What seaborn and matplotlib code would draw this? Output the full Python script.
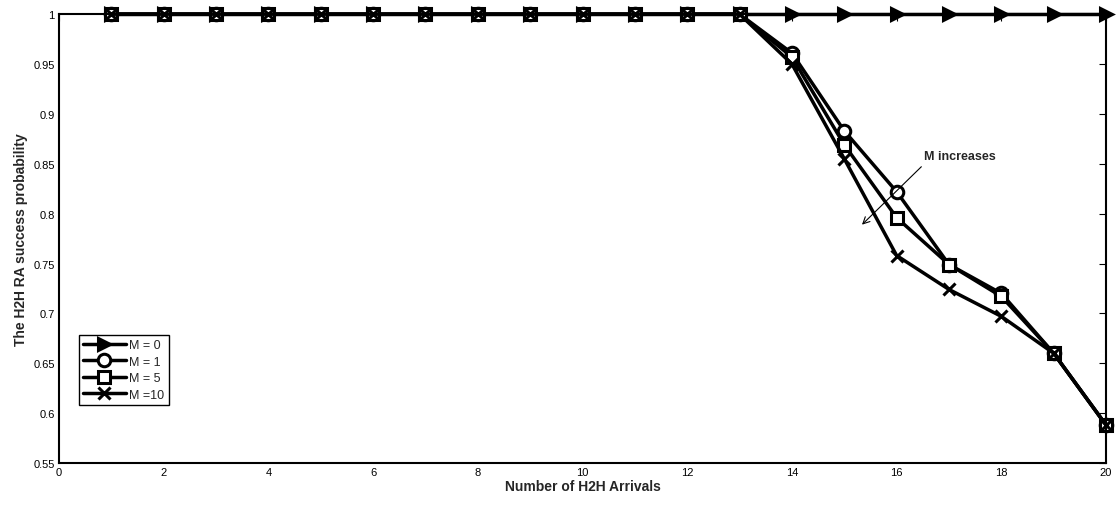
import matplotlib
matplotlib.use("Agg")
import matplotlib.pyplot as plt
import seaborn as sns
import numpy as np
import pandas as pd

arrivals = list(range(1, 21))
m0 = [1.0] * 20
m1 = [1.0] * 13 + [0.961, 0.883, 0.822, 0.749, 0.720, 0.660, 0.588]
m5 = [1.0] * 13 + [0.957, 0.869, 0.796, 0.749, 0.717, 0.660, 0.588]
m10 = [1.0] * 13 + [0.950, 0.855, 0.758, 0.724, 0.697, 0.660, 0.588]
labels = ["M = 0", "M = 1", "M = 5", "M =10"]
markers = [">", "o", "s", "x"]
xticks = list(range(0, 21, 2))
yticks = [0.55, 0.6, 0.65, 0.7, 0.75, 0.8, 0.85, 0.9, 0.95, 1.0]
ytick_labels = ["0.55", "0.6", "0.65", "0.7", "0.75", "0.8", "0.85", "0.9", "0.95", "1"]

sns.set_theme(style="white")
plt.rcParams["font.family"] = ["Liberation Sans", "DejaVu Sans"]

fig = plt.figure(figsize=(11.17, 5.06), dpi=100)
ax = fig.add_axes([0.0528, 0.083, 0.9374, 0.887])

series = [m0, m1, m5, m10]
for vals, lab, mk in zip(series, labels, markers):
    df = pd.DataFrame({"x": arrivals, "y": vals})
    face = "black" if mk == ">" else "white"
    sns.lineplot(data=df, x="x", y="y", ax=ax, color="black", lw=2.5,
                 marker=mk, markersize=9, markerfacecolor=face,
                 markeredgecolor="black", markeredgewidth=2.2, label=lab,
                 clip_on=False)

ax.set_xlim(0, 20)
ax.set_ylim(0.55, 1.0)
ax.set_xticks(xticks)
ax.set_xticklabels([str(t) for t in xticks])
ax.set_yticks(yticks)
ax.set_yticklabels(ytick_labels)
ax.tick_params(axis="both", direction="in", length=5, width=0.8, labelsize=8,
               top=True, right=True, colors="black", pad=3)
for s in ax.spines.values():
    s.set_visible(True)
    s.set_color("black")
    s.set_linewidth(1.5)

ax.set_xlabel("Number of H2H Arrivals", fontsize=10, fontweight="bold", labelpad=1)
ax.set_ylabel("The H2H RA success probability", fontsize=10, fontweight="bold", labelpad=4)

ax.annotate("", xy=(15.30, 0.787), xytext=(16.51, 0.849),
            arrowprops=dict(arrowstyle="->", color="black", lw=0.8))
ax.text(16.52, 0.858, "M increases", fontsize=9, fontweight="bold",
        ha="left", va="center")

leg = ax.legend(loc="upper left", bbox_to_anchor=(0.019, 0.285), fontsize=9,
                frameon=True, fancybox=False, edgecolor="black", framealpha=1,
                handlelength=3.4, handletextpad=0.3, labelspacing=0.35,
                borderpad=0.35, borderaxespad=0)
leg.get_frame().set_linewidth(1.0)

fig.savefig("out.png", dpi=100)
